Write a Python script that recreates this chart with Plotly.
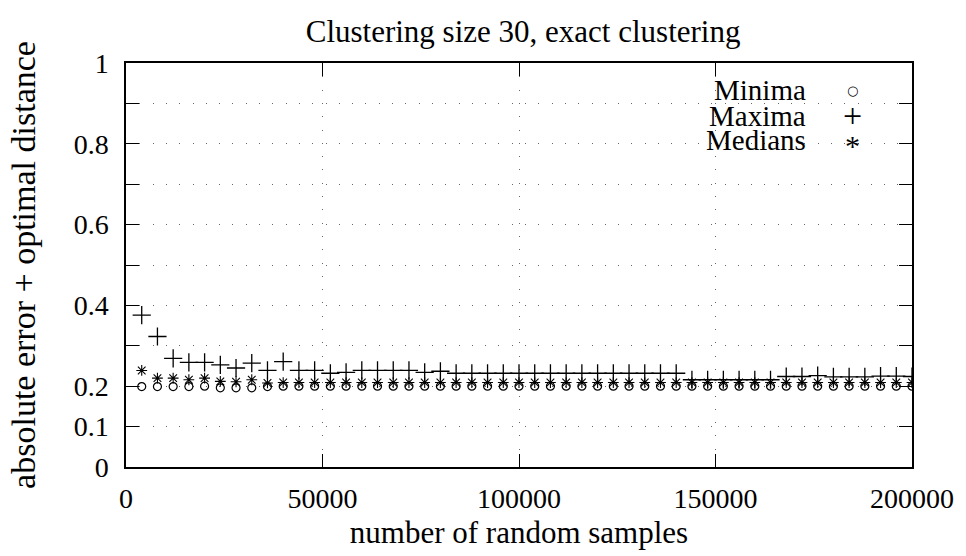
import plotly.graph_objects as go

# ---- data ----
samples = [4000, 8000, 12000, 16000, 20000, 24000, 28000, 32000, 36000, 40000,
           44000, 48000, 52000, 56000, 60000, 64000, 68000, 72000, 76000, 80000,
           84000, 88000, 92000, 96000, 100000, 104000, 108000, 112000, 116000, 120000,
           124000, 128000, 132000, 136000, 140000, 144000, 148000, 152000, 156000, 160000,
           164000, 168000, 172000, 176000, 180000, 184000, 188000, 192000, 196000, 200000]

minima = [0.199, 0.199, 0.199, 0.199, 0.200, 0.196, 0.196, 0.196, 0.199, 0.200,
          0.200, 0.200, 0.200, 0.200, 0.200, 0.200, 0.200, 0.200, 0.200, 0.200,
          0.200, 0.200, 0.200, 0.200, 0.200, 0.200, 0.200, 0.200, 0.200, 0.200,
          0.200, 0.200, 0.200, 0.200, 0.200, 0.200, 0.200, 0.200, 0.200, 0.200,
          0.200, 0.200, 0.200, 0.200, 0.200, 0.200, 0.200, 0.200, 0.200, 0.200]

maxima = [0.376, 0.323, 0.269, 0.259, 0.259, 0.253, 0.245, 0.257, 0.239, 0.261,
          0.239, 0.239, 0.232, 0.234, 0.239, 0.239, 0.239, 0.239, 0.234, 0.237,
          0.232, 0.232, 0.232, 0.232, 0.232, 0.232, 0.232, 0.232, 0.232, 0.232,
          0.232, 0.232, 0.232, 0.232, 0.232, 0.216, 0.216, 0.216, 0.216, 0.216,
          0.216, 0.224, 0.224, 0.226, 0.223, 0.223, 0.223, 0.225, 0.225, 0.224]

medians = [0.239, 0.220, 0.220, 0.216, 0.220, 0.212, 0.211, 0.216, 0.208, 0.209,
           0.209, 0.209, 0.209, 0.209, 0.209, 0.209, 0.209, 0.209, 0.209, 0.209,
           0.209, 0.209, 0.209, 0.209, 0.209, 0.209, 0.209, 0.209, 0.209, 0.209,
           0.209, 0.209, 0.209, 0.209, 0.209, 0.209, 0.209, 0.209, 0.209, 0.209,
           0.209, 0.209, 0.209, 0.209, 0.209, 0.209, 0.209, 0.209, 0.209, 0.209]

series_names = ["Minima", "Maxima", "Medians"]
legend_glyphs = ["\u25CB", "+", "*"]

y_tickvals = [0, 0.1, 0.2, 0.3, 0.4, 0.5, 0.6, 0.7, 0.8, 0.9, 1.0]
y_ticktext = ["0", "0.1", "0.2", "", "0.4", "", "0.6", "", "0.8", "", "1"]
x_tickvals = [0, 50000, 100000, 150000, 200000]
x_ticktext = ["0", "50000", "100000", "150000", "200000"]

FONT = "Times New Roman"

fig = go.Figure()
fig.add_trace(go.Scatter(x=samples, y=minima, mode="markers", name=series_names[0],
                         marker=dict(symbol="circle-open", size=8, color="black",
                                     line=dict(width=1.2, color="black"))))
fig.add_trace(go.Scatter(x=samples, y=maxima, mode="markers", name=series_names[1],
                         marker=dict(symbol="cross-thin-open", size=13, color="black",
                                     line=dict(width=1.3, color="black"))))
fig.add_trace(go.Scatter(x=samples, y=medians, mode="markers", name=series_names[2],
                         marker=dict(symbol="asterisk-open", size=9, color="black",
                                     line=dict(width=1.1, color="black"))))

fig.update_layout(
    width=966, height=556,
    margin=dict(l=126, r=46, t=63, b=80),
    paper_bgcolor="white", plot_bgcolor="white",
    showlegend=False,
    title=dict(text="Clustering size 30, exact clustering", x=0.5415, xanchor="center",
               y=1 - 31 / 556, yanchor="middle", font=dict(family=FONT, size=31, color="black")),
    xaxis=dict(range=[0, 200000], tickvals=x_tickvals, ticktext=x_ticktext,
               ticks="inside", ticklen=13, tickwidth=1.2, tickcolor="black",
               showline=True, linecolor="black", linewidth=1.5, mirror="ticks",
               showgrid=True, gridcolor="#666", gridwidth=1, griddash="1px,12.3px",
               zeroline=False, ticklabelstandoff=6,
               tickfont=dict(family=FONT, size=28, color="black"),
               title=dict(text="number of random samples", standoff=8,
                          font=dict(family=FONT, size=31, color="black"))),
    yaxis=dict(range=[0, 1], tickvals=y_tickvals, ticktext=y_ticktext,
               ticks="inside", ticklen=13, tickwidth=1.2, tickcolor="black",
               showline=True, linecolor="black", linewidth=1.5, mirror="ticks",
               showgrid=True, gridcolor="#666", gridwidth=1, griddash="1px,12.3px",
               zeroline=False, ticklabelstandoff=10,
               tickfont=dict(family=FONT, size=28, color="black"),
               title=dict(text="absolute error + optimal distance", standoff=28,
                          font=dict(family=FONT, size=34, color="black"))),
)

# opaque key box (hides grid behind key, like gnuplot's opaque key)
fig.add_shape(type="rect", xref="paper", yref="paper", x0=0.716, x1=0.981, y0=0.772, y1=0.968,
              fillcolor="white", line=dict(width=0), layer="between")

row_y = [0.933, 0.870, 0.809]
for name, yy in zip(series_names, row_y):
    fig.add_annotation(xref="paper", yref="paper", x=0.868, y=yy, text=name, showarrow=False,
                       xanchor="right", yanchor="middle",
                       font=dict(family=FONT, size=29, color="black"))
glyph_fonts = ["DejaVu Sans", FONT, FONT]
glyph_sizes = [13, 34, 30]
glyph_dy = [0.0, 0.0, -0.012]
for glyph, yy, fam, sz, dy in zip(legend_glyphs, row_y, glyph_fonts, glyph_sizes, glyph_dy):
    fig.add_annotation(xref="paper", yref="paper", x=0.9244, y=yy + dy, text=glyph, showarrow=False,
                       xanchor="center", yanchor="middle",
                       font=dict(family=fam, size=sz, color="black"))

fig.write_html("out.html")
